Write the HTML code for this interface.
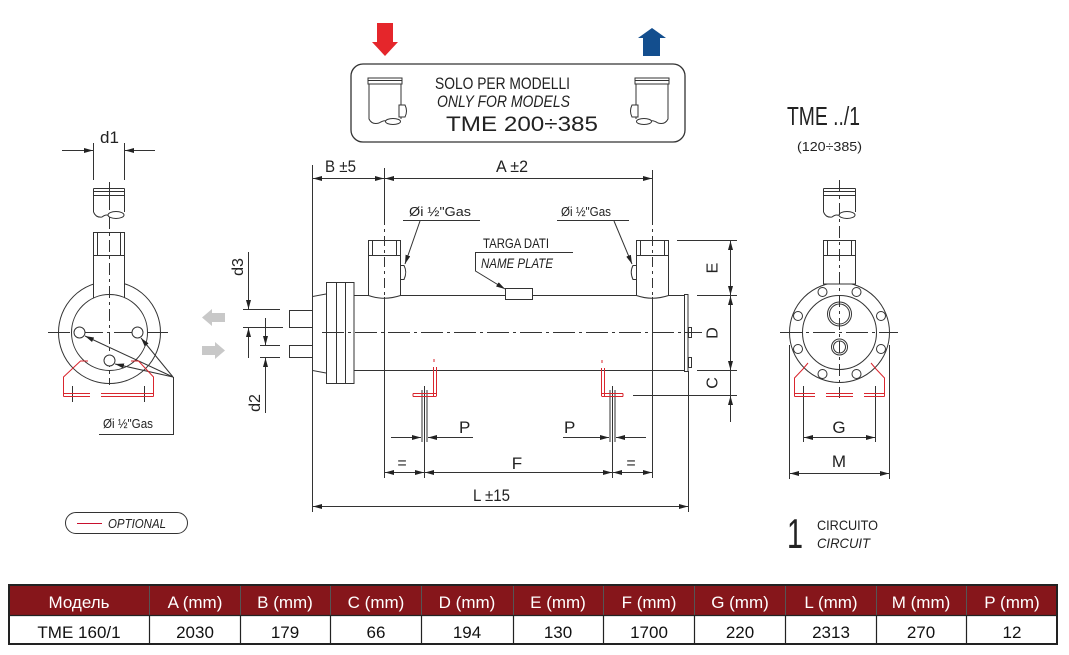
<!DOCTYPE html>
<html><head><meta charset="utf-8"><style>
html,body{margin:0;padding:0;background:#fff;}
svg{display:block;}
text{font-family:"Liberation Sans Narrow","Liberation Sans",sans-serif;fill:#222;}
.t{font-family:"Liberation Sans",sans-serif;}
</style></head><body>
<svg width="1069" height="655" viewBox="0 0 1069 655" xmlns="http://www.w3.org/2000/svg">
<defs>
<marker id="ah" viewBox="0 0 9 5" refX="9" refY="2.5" markerWidth="9" markerHeight="5" markerUnits="userSpaceOnUse" orient="auto-start-reverse"><path d="M0,0L9,2.5L0,5z" fill="#222"/></marker>
</defs>
<rect width="1069" height="655" fill="#fff"/>

<!-- TOP BOX -->
<polygon points="377,23 393,23 393,42 398,42 385,56 372,42 377,42" fill="#e5262b"/>
<polygon points="652,28 666,38 660,38 660,56 643,56 643,38 638,38" fill="#134e8e"/>
<rect x="351" y="64" width="334" height="78" rx="12" fill="none" stroke="#333" stroke-width="1.3"/>
<g fill="none" stroke="#333" stroke-width="1">
 <g id="ic">
  <path d="M368,78H402V84H368Z M368,80.5H402 M369,84V119 Q372,125 379,123 Q384,120 386,121 M401,84V105 M401,117V119"/>
  <path d="M399,105H405Q408,111 405,117H399Z"/>
  <ellipse cx="393" cy="121.5" rx="7.5" ry="3"/>
 </g>
 <use href="#ic" transform="translate(1037,0) scale(-1,1)"/>
</g>
<text x="435" y="89" font-size="17" textLength="135" lengthAdjust="spacingAndGlyphs">SOLO PER MODELLI</text>
<text x="437" y="107" font-size="17" font-style="italic" textLength="133" lengthAdjust="spacingAndGlyphs">ONLY FOR MODELS</text>
<text class="t" x="446" y="131" font-size="21" textLength="152" lengthAdjust="spacingAndGlyphs">TME 200÷385</text>

<!-- MAIN VIEW -->
<g fill="none" stroke="#333" stroke-width="1">
 <!-- shell -->
 <line x1="354" y1="295.5" x2="684" y2="295.5"/>
 <line x1="354" y1="370.5" x2="684" y2="370.5"/>
 <rect x="684.5" y="294.5" width="3.5" height="77"/>
 <rect x="688.5" y="327.5" width="3" height="10"/>
 <rect x="688.5" y="357.5" width="3" height="10"/>
 <!-- flange -->
 <rect x="326.5" y="282.5" width="27.5" height="101" fill="#fff"/>
 <line x1="336.5" y1="282.5" x2="336.5" y2="383.5"/>
 <line x1="345.5" y1="282.5" x2="345.5" y2="383.5"/>
 <path d="M326,294 L312.5,296.5 L312.5,370.5 L326,373"/>
 <path d="M312,310.5H289.5V327.5H312 M312,345.5H289.5V357.5H312"/>
 <!-- nozzles -->
 <path d="M368.5,240.5H400.5V295.5Q384,301 368.5,295.5Z" fill="#fff"/>
 <path d="M368.5,255.5H400.5 M372.5,240.5V255.5 M396.5,240.5V255.5"/>
 <path d="M400.5,265.5H404Q407.5,272 404,279.5H400.5Z"/>
 <path d="M636.5,240.5H668.5V295.5Q652,301 636.5,295.5Z" fill="#fff"/>
 <path d="M636.5,255.5H668.5 M640.5,240.5V255.5 M664.5,240.5V255.5"/>
 <path d="M636.5,265.5H633Q629.5,272 633,279.5H636.5Z"/>
 <!-- name plate -->
 <rect x="505.5" y="288.5" width="27" height="11" fill="#fff"/>
 <!-- center line -->
 <line x1="322" y1="332.5" x2="702" y2="332.5" stroke-dasharray="22,4,3,4"/>
 <!-- extension lines -->
 <line x1="312.5" y1="165" x2="312.5" y2="512"/>
 <line x1="384.5" y1="168" x2="384.5" y2="215"/>
 <line x1="384.5" y1="215" x2="384.5" y2="297" stroke-dasharray="10,4,3,4"/>
 <line x1="384.5" y1="297" x2="384.5" y2="478"/>
 <line x1="652.5" y1="170" x2="652.5" y2="215"/>
 <line x1="652.5" y1="215" x2="652.5" y2="297" stroke-dasharray="10,4,3,4"/>
 <line x1="652.5" y1="297" x2="652.5" y2="478"/>
 <line x1="688.5" y1="371" x2="688.5" y2="512"/>
 <!-- B, A dims -->
 <line x1="313" y1="178.5" x2="384" y2="178.5" marker-start="url(#ah)" marker-end="url(#ah)"/>
 <line x1="385" y1="178.5" x2="652" y2="178.5" marker-start="url(#ah)" marker-end="url(#ah)"/>
 <!-- gas leaders -->
 <line x1="403" y1="220.5" x2="480" y2="220.5"/>
 <line x1="420" y1="221" x2="405" y2="264" marker-end="url(#ah)"/>
 <line x1="557" y1="220.5" x2="629" y2="220.5"/>
 <line x1="614" y1="221" x2="632" y2="264" marker-end="url(#ah)"/>
 <!-- targa -->
 <line x1="475" y1="252.5" x2="573" y2="252.5"/>
 <polyline points="475.5,252.5 475.5,271 505,289" marker-end="url(#ah)"/>
 <!-- right dims E D C -->
 <line x1="677" y1="240.5" x2="737" y2="240.5"/>
 <line x1="697" y1="295.5" x2="737" y2="295.5"/>
 <line x1="697" y1="370.5" x2="737" y2="370.5"/>
 <line x1="633" y1="395.5" x2="737" y2="395.5"/>
 <line x1="730.5" y1="241" x2="730.5" y2="295" marker-start="url(#ah)" marker-end="url(#ah)"/>
 <line x1="730.5" y1="296" x2="730.5" y2="370" marker-start="url(#ah)" marker-end="url(#ah)"/>
 <line x1="730.5" y1="370" x2="730.5" y2="396"/>
 <line x1="730.5" y1="422" x2="730.5" y2="396" marker-end="url(#ah)"/>
 <!-- d3 d2 -->
 <line x1="243" y1="309.5" x2="280" y2="309.5"/>
 <line x1="243" y1="327.5" x2="283" y2="327.5"/>
 <line x1="260" y1="345.5" x2="280" y2="345.5"/>
 <line x1="260" y1="357.5" x2="280" y2="357.5"/>
 <line x1="248.5" y1="252" x2="248.5" y2="309" marker-end="url(#ah)"/>
 <line x1="248.5" y1="358" x2="248.5" y2="328" marker-end="url(#ah)"/>
 <line x1="265.5" y1="318" x2="265.5" y2="345" marker-end="url(#ah)"/>
 <line x1="265.5" y1="413" x2="265.5" y2="358" marker-end="url(#ah)"/>
 <!-- support lines below -->
 <path d="M422,390V442 M424.5,386V478 M427,390V442"/>
 <path d="M610,390V442 M612.5,386V478 M615,390V442"/>
 <!-- P dims -->
 <line x1="391" y1="437.5" x2="421" y2="437.5" marker-end="url(#ah)"/>
 <line x1="473" y1="437.5" x2="428" y2="437.5" marker-end="url(#ah)"/>
 <line x1="563" y1="437.5" x2="609" y2="437.5" marker-end="url(#ah)"/>
 <line x1="646" y1="437.5" x2="616" y2="437.5" marker-end="url(#ah)"/>
 <!-- F dims -->
 <line x1="385" y1="472.5" x2="424" y2="472.5" marker-start="url(#ah)" marker-end="url(#ah)"/>
 <line x1="425" y1="472.5" x2="612" y2="472.5" marker-start="url(#ah)" marker-end="url(#ah)"/>
 <line x1="613" y1="472.5" x2="652" y2="472.5" marker-start="url(#ah)" marker-end="url(#ah)"/>
 <!-- L -->
 <line x1="313" y1="506.5" x2="688" y2="506.5" marker-start="url(#ah)" marker-end="url(#ah)"/>
</g>
<!-- red supports main -->
<g fill="none" stroke="#d9262e" stroke-width="1">
 <path d="M433.5,367V396 M436.5,367V396 M413,393.5H436.5 M413,396.5H436.5 M413,393.5V396.5 M434,359V362"/>
 <path d="M601.5,368V396 M604.5,368V396 M601.5,393.5H623 M601.5,396.5H623 M623,393.5V396.5 M602,360V363"/>
</g>
<!-- gray arrows -->
<polygon points="202,317.5 212,309 212,313 225,313 225,322 212,322 212,326" fill="#c8c8c8"/>
<polygon points="225,350.5 215,342 215,346 202,346 202,355 215,355 215,359" fill="#c8c8c8"/>

<!-- main texts -->
<text x="325" y="172" font-size="17" textLength="31" lengthAdjust="spacingAndGlyphs">B ±5</text>
<text x="496" y="172" font-size="17" textLength="32" lengthAdjust="spacingAndGlyphs">A ±2</text>
<text x="409" y="216" font-size="13" textLength="62" lengthAdjust="spacingAndGlyphs">Øi ½"Gas</text>
<text x="561" y="216" font-size="13" textLength="50" lengthAdjust="spacingAndGlyphs">Øi ½"Gas</text>
<text x="483" y="248" font-size="14" textLength="66" lengthAdjust="spacingAndGlyphs">TARGA DATI</text>
<text x="481" y="268" font-size="14" font-style="italic" textLength="72" lengthAdjust="spacingAndGlyphs">NAME PLATE</text>
<text transform="translate(717.5,268) rotate(-90)" text-anchor="middle" font-size="16">E</text>
<text transform="translate(717.5,333) rotate(-90)" text-anchor="middle" font-size="16">D</text>
<text transform="translate(717.5,383) rotate(-90)" text-anchor="middle" font-size="16">C</text>
<text transform="translate(243,267) rotate(-90)" text-anchor="middle" font-size="16">d3</text>
<text transform="translate(260,403) rotate(-90)" text-anchor="middle" font-size="16">d2</text>
<text x="459" y="433" font-size="17">P</text>
<text x="564" y="433" font-size="17">P</text>
<text x="402" y="468" font-size="16" text-anchor="middle">=</text>
<text x="517" y="469" font-size="17" text-anchor="middle">F</text>
<text x="631" y="468" font-size="16" text-anchor="middle">=</text>
<text x="473" y="501" font-size="17" textLength="37" lengthAdjust="spacingAndGlyphs">L ±15</text>

<!-- LEFT VIEW -->
<g fill="none" stroke="#333" stroke-width="1">
 <line x1="93.5" y1="143" x2="93.5" y2="180"/>
 <line x1="124.5" y1="143" x2="124.5" y2="180"/>
 <line x1="62" y1="150.5" x2="93" y2="150.5" marker-end="url(#ah)"/>
 <line x1="155" y1="150.5" x2="125" y2="150.5" marker-end="url(#ah)"/>
 <path d="M93.5,188.5H124.5 M93.5,191.5H124.5 M93.5,195.5H124.5 M93.5,188.5V212 M124.5,188.5V212 M93.5,212Q96,218 102,217Q106,214 108.5,215.5"/>
 <ellipse cx="116" cy="215" rx="8" ry="3.5"/>
 <line x1="109.5" y1="182" x2="109.5" y2="210"/>
 <circle cx="109.5" cy="332.5" r="51"/>
 <path d="M93.5,232.5H124.5V298H93.5Z" fill="#fff"/>
 <path d="M93.5,255.5H124.5 M97.5,232.5V255.5 M120.5,232.5V255.5"/>
 <circle cx="109.5" cy="332.5" r="38" fill="#fff"/>
 <line x1="109.5" y1="217" x2="109.5" y2="385" stroke-dasharray="12,4,3,4"/>
 <line x1="48" y1="332.5" x2="168" y2="332.5" stroke-dasharray="22,4,3,4"/>
 <circle cx="79.5" cy="332.5" r="5.5" fill="#fff"/>
 <circle cx="137.5" cy="332.5" r="5.5" fill="#fff"/>
 <circle cx="109.5" cy="360.5" r="5.5" fill="#fff"/>
 <line x1="173" y1="377" x2="85" y2="336" marker-end="url(#ah)"/>
 <line x1="173" y1="377" x2="141" y2="338" marker-end="url(#ah)"/>
 <line x1="173" y1="377" x2="115" y2="364" marker-end="url(#ah)"/>
 <polyline points="173.5,377 173.5,434.5 99,434.5"/>
 <path d="M72.5,386V402 M144.5,386V402"/>
</g>
<g fill="none" stroke="#d9262e" stroke-width="1">
 <path d="M88,361H80.5L63.5,377V396.5 M63.5,393.5H90 M63.5,396.5H90"/>
 <path d="M131,361H138.5L153.5,377V396.5 M153.5,393.5H128 M153.5,396.5H128"/>
 <path d="M101,393.5H128 M101,396.5H128" stroke-dasharray="none"/>
</g>
<text x="100" y="143" font-size="17">d1</text>
<text x="103" y="428" font-size="13" textLength="50" lengthAdjust="spacingAndGlyphs">Øi ½"Gas</text>
<rect x="65.5" y="512.5" width="122" height="21" rx="10.5" fill="none" stroke="#333" stroke-width="1"/>
<line x1="77" y1="523.5" x2="102" y2="523.5" stroke="#c8102e" stroke-width="1"/>
<text x="108" y="528" font-size="13" font-style="italic" textLength="58" lengthAdjust="spacingAndGlyphs">OPTIONAL</text>

<!-- RIGHT VIEW -->
<text x="787" y="125" font-size="26" textLength="73" lengthAdjust="spacingAndGlyphs">TME ../1</text>
<text class="t" x="797" y="151" font-size="13" textLength="65" lengthAdjust="spacingAndGlyphs">(120÷385)</text>
<g fill="none" stroke="#333" stroke-width="1">
 <path d="M823.5,188.5H855.5 M823.5,191.5H855.5 M823.5,195.5H855.5 M823.5,188.5V212 M855.5,188.5V212 M823.5,212Q826,218 832,217Q836,214 838.5,215.5"/>
 <ellipse cx="847" cy="215" rx="8" ry="3.5"/>
 <line x1="789.5" y1="345" x2="789.5" y2="479"/>
 <line x1="889.5" y1="345" x2="889.5" y2="479"/>
 <circle cx="839.5" cy="332.5" r="50" fill="#fff"/>
 <path d="M823.5,240.5H855.5V284H823.5Z" fill="#fff"/>
 <path d="M823.5,255.5H855.5 M827.5,240.5V255.5 M851.5,240.5V255.5"/>
 <circle cx="839.5" cy="332.5" r="37"/>
 <circle cx="822.5" cy="292" r="4.5"/>
 <circle cx="856.5" cy="292" r="4.5"/>
 <circle cx="822.5" cy="374" r="4.5"/>
 <circle cx="856.5" cy="374" r="4.5"/>
 <circle cx="798" cy="316" r="4.5"/>
 <circle cx="881" cy="316" r="4.5"/>
 <circle cx="798" cy="349" r="4.5"/>
 <circle cx="881" cy="349" r="4.5"/>
 <circle cx="839.5" cy="314" r="12"/>
 <circle cx="839.5" cy="314" r="10"/>
 <circle cx="839.5" cy="347" r="8"/>
 <circle cx="839.5" cy="347" r="6"/>
 <line x1="839.5" y1="180" x2="839.5" y2="398" stroke-dasharray="12,4,3,4"/>
 <line x1="780" y1="332.5" x2="898" y2="332.5" stroke-dasharray="22,4,3,4"/>
 <path d="M803.5,386V442 M875.5,386V442"/>
 <line x1="804" y1="437.5" x2="875" y2="437.5" marker-start="url(#ah)" marker-end="url(#ah)"/>
 <line x1="790" y1="473.5" x2="889" y2="473.5" marker-start="url(#ah)" marker-end="url(#ah)"/>
</g>
<g fill="none" stroke="#d9262e" stroke-width="1">
 <path d="M808,363L803,369L794.5,378V396.5 M794.5,393.5H815 M794.5,396.5H815"/>
 <path d="M871,363L876,369L884.5,378V396.5 M884.5,393.5H864 M884.5,396.5H864"/>
 <path d="M826,393.5H853 M826,396.5H853"/>
</g>
<text x="839" y="433" font-size="17" text-anchor="middle">G</text>
<text x="839" y="467" font-size="17" text-anchor="middle">M</text>
<text x="787" y="548" font-size="42" textLength="16" lengthAdjust="spacingAndGlyphs">1</text>
<text x="817" y="530" font-size="14" textLength="61" lengthAdjust="spacingAndGlyphs">CIRCUITO</text>
<text x="817" y="548" font-size="14" font-style="italic" textLength="53" lengthAdjust="spacingAndGlyphs">CIRCUIT</text>

<!-- TABLE -->
<rect x="9" y="585" width="1048" height="30" fill="#86161b"/>
<rect x="9" y="615" width="1048" height="29" fill="#fff"/>
<g stroke="#555" stroke-width="1">
 <path d="M149.5,585V615 M240.5,585V615 M330.5,585V615 M421.5,585V615 M513.5,585V615 M603.5,585V615 M694.5,585V615 M785.5,585V615 M876.5,585V615 M966.5,585V615"/>
</g>
<g stroke="#222" stroke-width="1.2">
 <path d="M149.5,615V644 M240.5,615V644 M330.5,615V644 M421.5,615V644 M513.5,615V644 M603.5,615V644 M694.5,615V644 M785.5,615V644 M876.5,615V644 M966.5,615V644"/>
 <line x1="9" y1="615.5" x2="1057" y2="615.5"/>
</g>
<rect x="9" y="585" width="1048" height="59" fill="none" stroke="#222" stroke-width="2"/>
<g class="t" font-size="17" text-anchor="middle" fill="#fff" style="fill:#fff">
 <text class="t" x="79" y="608" style="fill:#fff">Модель</text>
 <text class="t" x="195" y="608" style="fill:#fff">A (mm)</text>
 <text class="t" x="285" y="608" style="fill:#fff">B (mm)</text>
 <text class="t" x="376" y="608" style="fill:#fff">C (mm)</text>
 <text class="t" x="467" y="608" style="fill:#fff">D (mm)</text>
 <text class="t" x="558" y="608" style="fill:#fff">E (mm)</text>
 <text class="t" x="649" y="608" style="fill:#fff">F (mm)</text>
 <text class="t" x="740" y="608" style="fill:#fff">G (mm)</text>
 <text class="t" x="831" y="608" style="fill:#fff">L (mm)</text>
 <text class="t" x="921" y="608" style="fill:#fff">M (mm)</text>
 <text class="t" x="1012" y="608" style="fill:#fff">P (mm)</text>
</g>
<g font-size="17" text-anchor="middle">
 <text class="t" x="79" y="638" style="fill:#111">TME 160/1</text>
 <text class="t" x="195" y="638" style="fill:#111">2030</text>
 <text class="t" x="285" y="638" style="fill:#111">179</text>
 <text class="t" x="376" y="638" style="fill:#111">66</text>
 <text class="t" x="467" y="638" style="fill:#111">194</text>
 <text class="t" x="558" y="638" style="fill:#111">130</text>
 <text class="t" x="649" y="638" style="fill:#111">1700</text>
 <text class="t" x="740" y="638" style="fill:#111">220</text>
 <text class="t" x="831" y="638" style="fill:#111">2313</text>
 <text class="t" x="921" y="638" style="fill:#111">270</text>
 <text class="t" x="1012" y="638" style="fill:#111">12</text>
</g>
</svg>
</body></html>
